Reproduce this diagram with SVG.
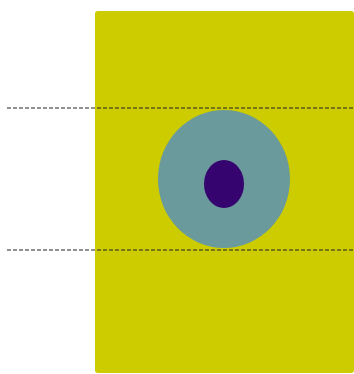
<svg xmlns="http://www.w3.org/2000/svg" width="354" height="374" viewBox="0 0 354 374">
<style>
.cut{stroke:#222;stroke-width:1;stroke-dasharray:4,2;fill:none}
</style>
<rect width="354" height="374" fill="#fff"/>
<g id="block"><rect x="95" y="11" width="259" height="362" rx="3" fill="#cccc00"/></g>
<g id="outer"><ellipse cx="224" cy="179" rx="66" ry="69" fill="#6a9a9c"/></g>
<g id="inner"><ellipse cx="224" cy="184" rx="20" ry="24" fill="#35046e"/></g>
<g id="connectors">
<line class="cut" x1="7" y1="108" x2="354" y2="108"/>
<line class="cut" x1="7" y1="250" x2="354" y2="250"/>
</g>
</svg>
